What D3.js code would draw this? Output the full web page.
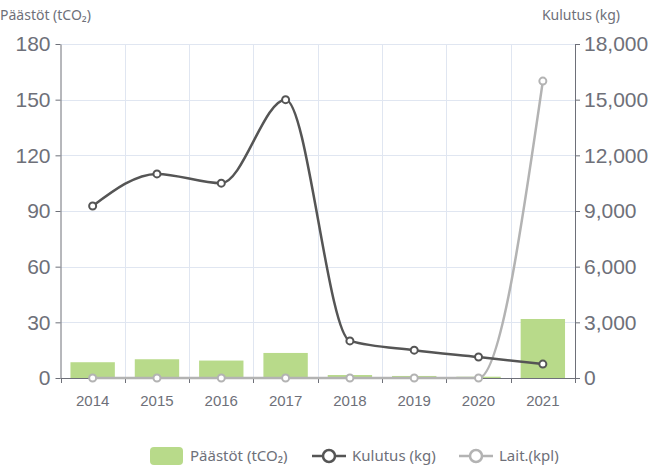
<!DOCTYPE html>
<html>
<head>
<meta charset="utf-8">
<script src="https://cdn.jsdelivr.net/npm/d3@7"></script>
<style>
  body { margin: 0; background: #fff; }
  svg { display: block; font-family: "Noto Sans", "Open Sans", sans-serif; }
</style>
</head>
<body>
<svg width="652" height="469"></svg>
<script>
// data
const years = ["2014", "2015", "2016", "2017", "2018", "2019", "2020", "2021"]
const paastot = [8.5, 10.1, 9.4, 13.5, 1.6, 1.1, 0.7, 31.8]        // tCO2, left axis
const kulutus = [9270, 11000, 10500, 15000, 2000, 1500, 1130, 750] // kg, right axis
const laitteet = [0, 0, 0, 0, 0, 0, 0, 16000]                      // kpl, right axis
const leftTicks = [0, 30, 60, 90, 120, 150, 180]
const rightTicks = [0, 3000, 6000, 9000, 12000, 15000, 18000]

const svg = d3.select("svg")
const m = { left: 60.5, right: 575, top: 44, bottom: 378 }
const axisCol = "#6e7079"
const gridCol = "#e0e6f1"

const x = d3.scaleBand().domain(years).range([m.left, m.right])
const yL = d3.scaleLinear().domain([0, 180]).range([m.bottom, m.top])
const yR = d3.scaleLinear().domain([0, 18000]).range([m.bottom, m.top])

// grid
const grid = svg.append("g")
grid.selectAll(".h").data(leftTicks.slice(1)).enter().append("line")
    .attr("x1", m.left).attr("x2", m.right)
    .attr("y1", d => Math.round(yL(d)) + 0.5).attr("y2", d => Math.round(yL(d)) + 0.5)
    .attr("stroke", gridCol)
grid.selectAll(".v").data(years.slice(1)).enter().append("line")
    .attr("x1", d => Math.round(x(d)) + 0.5).attr("x2", d => Math.round(x(d)) + 0.5)
    .attr("y1", m.top).attr("y2", m.bottom)
    .attr("stroke", gridCol)

// bars
svg.append("g").selectAll("rect").data(paastot).enter().append("rect")
    .attr("x", (d, i) => x(years[i]) + x.bandwidth() * 0.155)
    .attr("width", x.bandwidth() * 0.69)
    .attr("y", d => yL(d))
    .attr("height", d => m.bottom - yL(d))
    .attr("fill", "#b8da8a")

// axes
function styleAxis(g) {
    g.selectAll("path").attr("stroke", axisCol).attr("stroke-width", 1)
    g.selectAll("line").attr("stroke", axisCol)
    g.selectAll("text").attr("fill", axisCol).attr("font-family", null)
}

const ax = svg.append("g")
    .attr("transform", `translate(0,${m.bottom})`)
    .call(d3.axisBottom(x).tickSize(0).tickPadding(17))
ax.attr("font-size", 15)
styleAxis(ax)
ax.select(".domain").attr("d", `M${m.left},0.5H${m.right}`)
ax.selectAll(".bt").data(d3.range(years.length + 1)).enter().append("line")
    .attr("x1", i => Math.round(m.left + i * x.bandwidth()) + 0.5)
    .attr("x2", i => Math.round(m.left + i * x.bandwidth()) + 0.5)
    .attr("y1", 0).attr("y2", 5).attr("stroke", axisCol)

const al = svg.append("g")
    .attr("transform", `translate(${m.left},0)`)
    .call(d3.axisLeft(yL).tickValues(leftTicks).tickSize(5).tickPadding(5).tickSizeOuter(0))
al.attr("font-size", 21)
styleAxis(al)

const ar = svg.append("g")
    .attr("transform", `translate(${m.right},0)`)
    .call(d3.axisRight(yR).tickValues(rightTicks).tickFormat(d3.format(",")).tickSize(5).tickPadding(4).tickSizeOuter(0))
ar.attr("font-size", 21)
styleAxis(ar)

// axis names
svg.append("text").attr("x", 0).attr("y", 20).attr("font-size", 14).attr("fill", axisCol)
    .text("Päästöt (tCO₂)")
svg.append("text").attr("x", 620).attr("y", 20).attr("font-size", 14).attr("fill", axisCol)
    .attr("text-anchor", "end").text("Kulutus (kg)")

// lines
const line = d3.line()
    .x((d, i) => x(years[i]) + x.bandwidth() / 2)
    .y(d => yR(d))
    .curve(d3.curveMonotoneX)

function drawSeries(vals, col) {
    svg.append("path").datum(vals)
        .attr("d", line)
        .attr("fill", "none")
        .attr("stroke", col)
        .attr("stroke-width", 2.5)
    svg.append("g").selectAll("circle").data(vals).enter().append("circle")
        .attr("cx", (d, i) => x(years[i]) + x.bandwidth() / 2)
        .attr("cy", d => yR(d))
        .attr("r", 3.5)
        .attr("fill", "#fff")
        .attr("stroke", col)
        .attr("stroke-width", 2)
}
drawSeries(laitteet, "#b3b3b3")
drawSeries(kulutus, "#555555")

// legend
const lg = svg.append("g").attr("font-size", 15).attr("fill", axisCol)
lg.append("rect").attr("x", 150).attr("y", 447).attr("width", 33).attr("height", 18)
    .attr("rx", 4).attr("fill", "#b8da8a")
lg.append("text").attr("x", 190).attr("y", 461).text("Päästöt (tCO₂)")

const legendLines = [
    { x: 312, col: "#555555", label: "Kulutus (kg)" },
    { x: 459, col: "#b3b3b3", label: "Lait.(kpl)" }
]
legendLines.forEach(l => {
    lg.append("line").attr("x1", l.x).attr("x2", l.x + 34).attr("y1", 456).attr("y2", 456)
        .attr("stroke", l.col).attr("stroke-width", 2.5)
    lg.append("circle").attr("cx", l.x + 17).attr("cy", 456).attr("r", 6)
        .attr("fill", "#fff").attr("stroke", l.col).attr("stroke-width", 2.5)
    lg.append("text").attr("x", l.x + 40).attr("y", 461).text(l.label)
})
</script>
</body>
</html>
